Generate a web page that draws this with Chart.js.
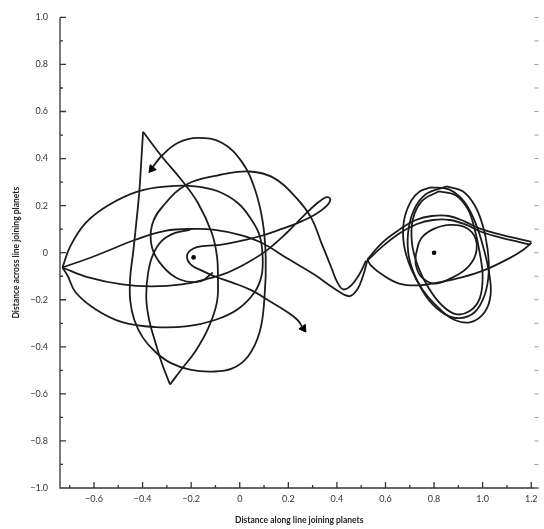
<!DOCTYPE html>
<html>
<head>
<meta charset="utf-8">
<script src="https://cdn.jsdelivr.net/npm/chart.js@4/dist/chart.umd.min.js"></script>
<style>
  body { margin: 0; background: #fff; }
  #wrap { width: 544px; height: 529px; }
</style>
</head>
<body>
<div id="wrap"><canvas id="chart"></canvas></div>
<script>
// trajectory pieces as [along, across]
const tallLoop = [[-0.398,0.514],[-0.406,0.379],[-0.414,0.253],[-0.426,0.126],[-0.439,0],[-0.451,-0.105],[-0.451,-0.202],[-0.434,-0.286],[-0.398,-0.362],[-0.348,-0.421],[-0.287,-0.467],[-0.205,-0.497],[-0.115,-0.505],[-0.033,-0.493],[0.033,-0.442],[0.082,-0.337],[0.102,-0.189],[0.107,-0.021],[0.094,0.135],[0.061,0.274],[0.008,0.387],[-0.074,0.467],[-0.172,0.488],[-0.254,0.467],[-0.320,0.413],[-0.357,0.366]];
const teardropRight = [[-0.398,0.514],[-0.320,0.408],[-0.238,0.307],[-0.172,0.211],[-0.115,0.084],[-0.094,-0.013],[-0.090,-0.097],[-0.094,-0.211],[-0.131,-0.324],[-0.184,-0.421],[-0.238,-0.493],[-0.287,-0.560]];
const teardropLeft = [[-0.287,-0.560],[-0.320,-0.472],[-0.348,-0.379],[-0.373,-0.286],[-0.385,-0.189],[-0.377,-0.084],[-0.357,-0.008],[-0.320,0.051],[-0.266,0.084],[-0.205,0.097]];
const outerLoop = [[-0.730,-0.063],[-0.697,0.029],[-0.635,0.126],[-0.541,0.202],[-0.418,0.261],[-0.295,0.282],[-0.184,0.282],[-0.090,0.261],[-0.008,0.211],[0.049,0.139],[0.082,0.072],[0.094,-0.013],[0.090,-0.097],[0.061,-0.168],[-0.008,-0.240],[-0.102,-0.286],[-0.213,-0.312],[-0.348,-0.316],[-0.484,-0.295],[-0.594,-0.240],[-0.676,-0.168],[-0.709,-0.097],[-0.730,-0.063]];
const longArc = [[-0.111,-0.084],[-0.164,-0.122],[-0.246,-0.114],[-0.316,-0.059],[-0.361,0.021],[-0.361,0.118],[-0.316,0.198],[-0.217,0.291],[-0.094,0.328],[0.041,0.345],[0.143,0.316],[0.234,0.232],[0.295,0.147],[0.336,0.042],[0.377,-0.063],[0.402,-0.126],[0.426,-0.156],[0.459,-0.139],[0.492,-0.093],[0.520,-0.034]];
const upperEye = [[-0.730,-0.063],[-0.594,-0.013],[-0.430,0.055],[-0.307,0.093],[-0.184,0.101],[-0.102,0.097],[0,0.076],[0.090,0.042],[0.197,-0.025],[0.307,-0.093],[0.389,-0.152],[0.451,-0.185],[0.484,-0.156],[0.508,-0.097],[0.525,-0.034]];
const lowerEyeLobe = [[-0.730,-0.063],[-0.623,-0.105],[-0.484,-0.135],[-0.361,-0.143],[-0.238,-0.135],[-0.143,-0.114],[-0.049,-0.084],[0.033,-0.042],[0.115,0.013],[0.197,0.088],[0.266,0.160],[0.320,0.211],[0.357,0.236],[0.373,0.227],[0.357,0.198],[0.307,0.160],[0.238,0.126],[0.172,0.101],[0.090,0.072],[0.008,0.051],[-0.074,0.034],[-0.143,0.029],[-0.193,0.017],[-0.217,-0.013],[-0.201,-0.051],[-0.156,-0.076],[-0.102,-0.101],[-0.033,-0.126],[0.049,-0.160],[0.131,-0.211],[0.197,-0.253],[0.238,-0.286],[0.258,-0.316]];
const rightUpper = [[0.525,-0.029],[0.586,0.042],[0.656,0.097],[0.725,0.139],[0.791,0.156],[0.861,0.156],[0.930,0.131],[0.992,0.101],[1.078,0.076],[1.148,0.059],[1.201,0.046]];
const rightUpper2 = [[0.525,-0.034],[0.590,0.029],[0.660,0.084],[0.730,0.122],[0.795,0.139],[0.865,0.139],[0.934,0.118],[0.996,0.088],[1.078,0.063],[1.148,0.046],[1.197,0.034]];
const rightLower = [[1.201,0.042],[1.168,0.013],[1.107,-0.025],[1.012,-0.072],[0.914,-0.105],[0.820,-0.126],[0.738,-0.139],[0.656,-0.131],[0.586,-0.093],[0.541,-0.055],[0.525,-0.029]];
const rightInner = [[0.725,-0.008],[0.746,0.059],[0.799,0.101],[0.869,0.118],[0.934,0.105],[0.971,0.059],[0.971,-0.008],[0.934,-0.067],[0.869,-0.109],[0.799,-0.131],[0.746,-0.101],[0.725,-0.051],[0.725,-0.008]];
const rightLoopA = [[0.787,0.278],[0.861,0.269],[0.922,0.219],[0.967,0.135],[1.000,0.034],[1.025,-0.076],[1.033,-0.177],[1.008,-0.253],[0.951,-0.295],[0.885,-0.286],[0.820,-0.236],[0.754,-0.160],[0.705,-0.067],[0.676,0.034],[0.676,0.135],[0.705,0.219],[0.742,0.261],[0.787,0.278]];
const rightLoopB = [[0.852,0.282],[0.918,0.261],[0.967,0.202],[1.000,0.118],[1.020,0.017],[1.025,-0.084],[1.008,-0.181],[0.967,-0.253],[0.906,-0.278],[0.844,-0.261],[0.779,-0.202],[0.730,-0.118],[0.697,-0.021],[0.693,0.084],[0.717,0.181],[0.766,0.248],[0.852,0.282]];
const rightLoopC = [[0.820,0.261],[0.889,0.244],[0.939,0.185],[0.967,0.101],[0.988,0],[1.000,-0.101],[0.988,-0.194],[0.947,-0.248],[0.889,-0.261],[0.832,-0.223],[0.779,-0.152],[0.734,-0.059],[0.709,0.042],[0.713,0.143],[0.750,0.219],[0.820,0.261]];

const planets = [[-0.19,-0.02],[0.80,0.0]];
const arrowHeads = [[-0.362,0.356],[0.262,-0.322]];
const arrowAngles = [219, 145];

const xTitle = 'Distance along line joining planets';
const yTitle = 'Distance across line joining planets';

const pts = a => a.map(([x, y]) => ({x, y}));
const ink = '#1c1c1c';

const pieces = [tallLoop, teardropRight, teardropLeft, outerLoop, longArc, upperEye, lowerEyeLobe,
  rightUpper, rightUpper2, rightLower, rightInner, rightLoopA, rightLoopB, rightLoopC];

const datasets = pieces.map(p => ({
  data: pts(p),
  showLine: true,
  borderColor: ink,
  borderWidth: 1.8,
  tension: 0.4,
  pointRadius: 0,
  fill: false
}));
datasets.push({
  data: pts(planets),
  pointRadius: 2.3,
  backgroundColor: '#000',
  borderWidth: 0
});
datasets.push({
  data: pts(arrowHeads),
  pointStyle: 'triangle',
  pointRadius: 4.5,
  pointRotation: ctx => arrowAngles[ctx.dataIndex] || 0,
  backgroundColor: '#000',
  borderColor: '#000',
  borderWidth: 1
});

function tickText(v) {
  const k = Math.round(v * 10);
  if (k % 2 !== 0) return '';
  if (k === 0) return '0';
  return (k < 0 ? '\u2212' : '') + Math.abs(v).toFixed(1);
}
const isMajor = v => Math.round(v * 10) % 2 === 0;

// axis lines and inward tick marks
const axisMarks = {
  id: 'axisMarks',
  afterDraw(chart) {
    const {ctx, chartArea: a, scales: {x, y}} = chart;
    ctx.save();
    ctx.strokeStyle = '#333';
    ctx.lineWidth = 1.3;
    ctx.beginPath();
    ctx.moveTo(a.left, a.top);
    ctx.lineTo(a.left, a.bottom);
    ctx.lineTo(a.right, a.bottom);
    x.ticks.forEach(t => {
      const px = x.getPixelForValue(t.value);
      ctx.moveTo(px, a.bottom);
      ctx.lineTo(px, a.bottom - (isMajor(t.value) ? 6 : 3));
    });
    y.ticks.forEach(t => {
      const py = y.getPixelForValue(t.value);
      ctx.moveTo(a.left, py);
      ctx.lineTo(a.left + (isMajor(t.value) ? 6 : 3), py);
    });
    ctx.stroke();
    ctx.strokeStyle = '#999';
    ctx.lineWidth = 1;
    ctx.beginPath();
    y.ticks.forEach(t => {
      const py = y.getPixelForValue(t.value);
      ctx.moveTo(a.right, py);
      ctx.lineTo(a.right - 4, py);
    });
    ctx.stroke();
    ctx.restore();
  }
};

const labelFont = {family: 'Lato', size: 9};
const titleFont = {family: 'Lato', size: 8.5, weight: 'bold'};

new Chart(document.getElementById('chart'), {
  type: 'scatter',
  data: {datasets},
  plugins: [axisMarks],
  options: {
    responsive: true,
    maintainAspectRatio: false,
    animation: false,
    layout: {padding: {top: 13, right: 3, left: 0, bottom: 0}},
    plugins: {legend: {display: false}, tooltip: {enabled: false}},
    scales: {
      x: {
        type: 'linear',
        min: -0.74,
        max: 1.23,
        grid: {display: false, drawTicks: false},
        border: {display: false},
        ticks: {stepSize: 0.1, includeBounds: false, autoSkip: false, maxRotation: 0,
          padding: 6, color: '#333', font: labelFont, callback: v => tickText(v)},
        title: {display: true, text: xTitle, color: '#222', font: titleFont, padding: {top: 2, bottom: 4}},
        afterFit: s => { s.height = 41; }
      },
      y: {
        type: 'linear',
        min: -1,
        max: 1,
        grid: {display: false, drawTicks: false},
        border: {display: false},
        ticks: {stepSize: 0.1, includeBounds: false, autoSkip: false,
          padding: 12, color: '#333', font: labelFont, callback: v => tickText(v)},
        title: {display: true, text: yTitle, color: '#222', font: titleFont, padding: {top: 11, bottom: 2}},
        afterFit: s => { s.width = 60; }
      }
    }
  }
});
</script>
</body>
</html>
